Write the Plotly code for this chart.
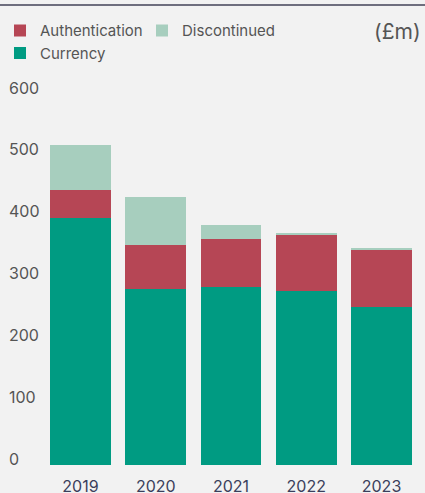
import plotly.graph_objects as go

years = [2019, 2020, 2021, 2022, 2023]
year_labels = ["2019", "2020", "2021", "2022", "2023"]
currency = [400, 284, 288, 282, 256]
authentication = [44, 72, 77, 90, 92]
discontinued = [74, 78, 23, 3, 3]
y_ticks = [0, 100, 200, 300, 400, 500, 600]

C_CUR = "#009b82"
C_AUTH = "#b64655"
C_DISC = "#a7cebe"
BG = "#f2f2f2"

L, R, T, B = 6, 6, 94, 28
PW, PH = 425 - L - R, 493 - T - B

fig = go.Figure()
fig.add_trace(go.Bar(x=years, y=currency, name="Currency", marker_color=C_CUR,
                     marker_line_width=0, legendrank=3))
fig.add_trace(go.Bar(x=years, y=authentication, name="Authentication", marker_color=C_AUTH,
                     marker_line_width=0, legendrank=1))
fig.add_trace(go.Bar(x=years, y=discontinued, name="Discontinued", marker_color=C_DISC,
                     marker_line_width=0, legendrank=2))

fig.update_layout(
    width=425, height=493,
    barmode="stack", bargap=0.19,
    paper_bgcolor=BG, plot_bgcolor=BG,
    margin=dict(l=L, r=R, t=T, b=B),
    font=dict(family="Inter", color="#555555"),
    showlegend=True,
    legend=dict(orientation="h", xref="container", yref="container",
                x=-0.0094, y=0.971, xanchor="left", yanchor="top",
                traceorder="normal",
                entrywidth=97, entrywidthmode="pixels",
                font=dict(size=15, color="#555555"), bgcolor="rgba(0,0,0,0)"),
    xaxis=dict(range=[2018.010, 2023.498], tickmode="array", tickvals=years,
               ticktext=year_labels, showgrid=False, zeroline=False, showline=False,
               ticks="", tickfont=dict(size=16, color="#3b3f5c"),
               ticklabelstandoff=10, automargin=False),
    yaxis=dict(range=[0, 600], tickmode="array", tickvals=y_ticks,
               showgrid=False, zeroline=False, showline=False, ticks="",
               ticklabelposition="inside", ticklabeloverflow="allow",
               ticklabelshift=-6, tickfont=dict(size=16, color="#555555"),
               automargin=False),
    shapes=[dict(type="line", xref="paper", yref="paper",
                 x0=-0.05, x1=1.05, y0=(PH + T - 5) / PH, y1=(PH + T - 5) / PH,
                 line=dict(color="#6e6e7e", width=2))],
    annotations=[dict(text="(£m)", xref="paper", yref="paper",
                      x=(423 - L) / PW, y=(PH + T - 32) / PH,
                      xanchor="right", yanchor="middle", showarrow=False,
                      font=dict(size=21, color="#555555"))],
)

fig.write_html("out.html",
               config={"displayModeBar": False},
               post_script="document.body.style.margin='0';document.body.style.overflow='hidden';")
